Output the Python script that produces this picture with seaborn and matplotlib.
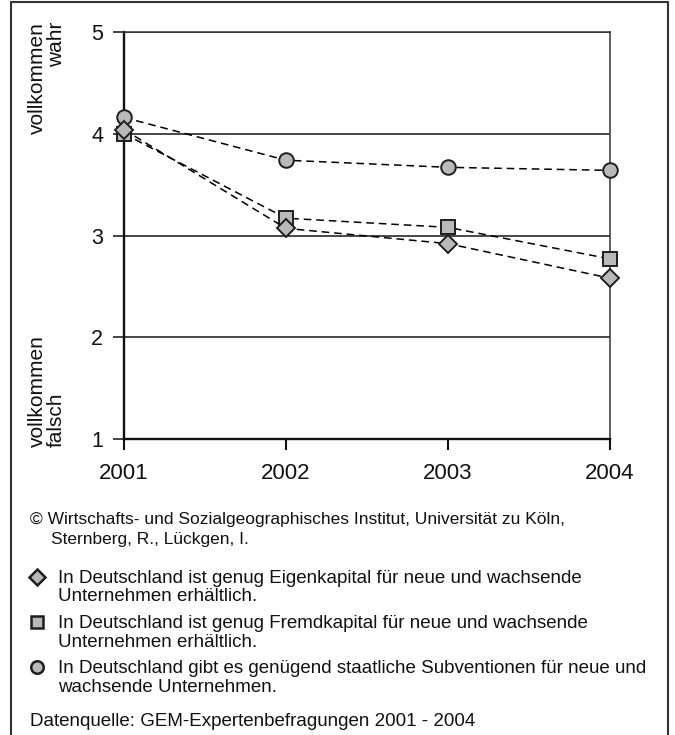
import pandas as pd
import matplotlib
matplotlib.use("Agg")
import matplotlib.pyplot as plt
from matplotlib.lines import Line2D
import seaborn as sns

# Werte
jahre = [2001, 2002, 2003, 2004]
eigenkapital = [4.04, 3.07, 2.92, 2.58]
fremdkapital = [4.00, 3.17, 3.08, 2.77]
subventionen = [4.16, 3.74, 3.67, 3.64]

reihen = ["Subventionen", "Fremdkapital", "Eigenkapital"]
marker_map = {"Eigenkapital": "D", "Fremdkapital": "s", "Subventionen": "o"}
legend_texte = {
    "Eigenkapital": ["In Deutschland ist genug Eigenkapital für neue und wachsende",
                     "Unternehmen erhältlich."],
    "Fremdkapital": ["In Deutschland ist genug Fremdkapital für neue und wachsende",
                     "Unternehmen erhältlich."],
    "Subventionen": ["In Deutschland gibt es genügend staatliche Subventionen für neue und",
                     "wachsende Unternehmen."],
}

df = pd.concat([
    pd.DataFrame({"Jahr": jahre, "Wert": eigenkapital, "Reihe": "Eigenkapital"}),
    pd.DataFrame({"Jahr": jahre, "Wert": fremdkapital, "Reihe": "Fremdkapital"}),
    pd.DataFrame({"Jahr": jahre, "Wert": subventionen, "Reihe": "Subventionen"}),
])

sns.set_theme(style="ticks")
plt.rcParams["font.family"] = ["Liberation Sans", "DejaVu Sans"]

W, H = 675, 735
fig = plt.figure(figsize=(W / 100, H / 100), dpi=100)
ax = fig.add_axes([124 / W, 1 - 439 / H, (610 - 124) / W, (439 - 32) / H])

fill = "#b9b9b9"
edge = "#1e1e1e"
sizes = {"Eigenkapital": 9.5, "Fremdkapital": 9.5, "Subventionen": 10.5}

sns.lineplot(
    data=df, x="Jahr", y="Wert", hue="Reihe", style="Reihe",
    hue_order=reihen, style_order=reihen,
    palette={r: "black" for r in reihen},
    markers=marker_map,
    dashes={r: (5, 3.2) for r in reihen},
    markerfacecolor=fill, markeredgecolor=edge, markeredgewidth=1.4,
    linewidth=1.1, legend=False, ax=ax,
)
for line, r in zip(ax.lines, reihen):
    line.set_markersize(sizes[r])
    line.set_clip_on(False)
    line.set_zorder(5)

ax.set_xlim(2001, 2004)
ax.set_ylim(1, 5)
ax.set_xticks(jahre)
ax.set_xticklabels([str(j) for j in jahre])
ax.set_yticks([1, 2, 3, 4, 5])
ax.set_xlabel("")
ax.set_ylabel("")
ax.yaxis.grid(True, color="#151515", linewidth=1.1)
ax.xaxis.grid(False)
ax.set_axisbelow(True)

for side in ["left", "bottom"]:
    ax.spines[side].set_color("#111111")
    ax.spines[side].set_linewidth(1.7)
for side in ["top", "right"]:
    ax.spines[side].set_visible(True)
    ax.spines[side].set_color("#333333")
    ax.spines[side].set_linewidth(1.1)

ax.tick_params(axis="y", direction="out", length=8, width=1.1, pad=7,
               labelsize=15.5, colors="#111111")
ax.tick_params(axis="x", direction="out", length=8, width=1.5, pad=9,
               labelsize=16, colors="#111111")

txt = "#111111"
fig.text(47 / W, 1 - 22 / H, "vollkommen\nwahr", rotation=90, ha="center",
         va="top", multialignment="right", fontsize=15, linespacing=1.0,
         color=txt)
fig.text(47 / W, 1 - 447 / H, "vollkommen\nfalsch", rotation=90, ha="center",
         va="bottom", multialignment="left", fontsize=15, linespacing=1.0,
         color=txt)

# Rahmen um die gesamte Grafik
rahmen = dict(transform=fig.transFigure, color="#333333", linewidth=1.5)
fig.add_artist(Line2D([11 / W, 11 / W], [0, 1 - 2 / H], **rahmen))
fig.add_artist(Line2D([11 / W, 668 / W], [1 - 2 / H, 1 - 2 / H], **rahmen))
fig.add_artist(Line2D([668 / W, 668 / W], [0, 1 - 2 / H], **rahmen))

fig.text(30 / W, 1 - 524 / H,
         "© Wirtschafts- und Sozialgeographisches Institut, Universität zu Köln,",
         fontsize=12.5, va="baseline", color=txt)
fig.text(51 / W, 1 - 544 / H, "Sternberg, R., Lückgen, I.",
         fontsize=12.5, va="baseline", color=txt)

# Legende von Hand gesetzt: Grundlinien der beiden Zeilen, Markerhöhe
legend_base = {"Eigenkapital": (583, 601), "Fremdkapital": (628, 647),
               "Subventionen": (673, 692)}
for r in ["Eigenkapital", "Fremdkapital", "Subventionen"]:
    b1, b2 = legend_base[r]
    fig.add_artist(Line2D([37 / W], [1 - (b1 - 6) / H], transform=fig.transFigure,
                          marker=marker_map[r], markersize=8 if r != "Subventionen" else 9,
                          markerfacecolor=fill, markeredgecolor=edge,
                          markeredgewidth=1.8, linestyle="none"))
    fig.text(58 / W, 1 - b1 / H, legend_texte[r][0], fontsize=13.5,
             va="baseline", color=txt)
    fig.text(58 / W, 1 - b2 / H, legend_texte[r][1], fontsize=13.5,
             va="baseline", color=txt)

fig.text(30 / W, 1 - 726 / H, "Datenquelle: GEM-Expertenbefragungen 2001 - 2004",
         fontsize=13.5, va="baseline", color=txt)

fig.savefig("out.png", dpi=100, facecolor="white")
